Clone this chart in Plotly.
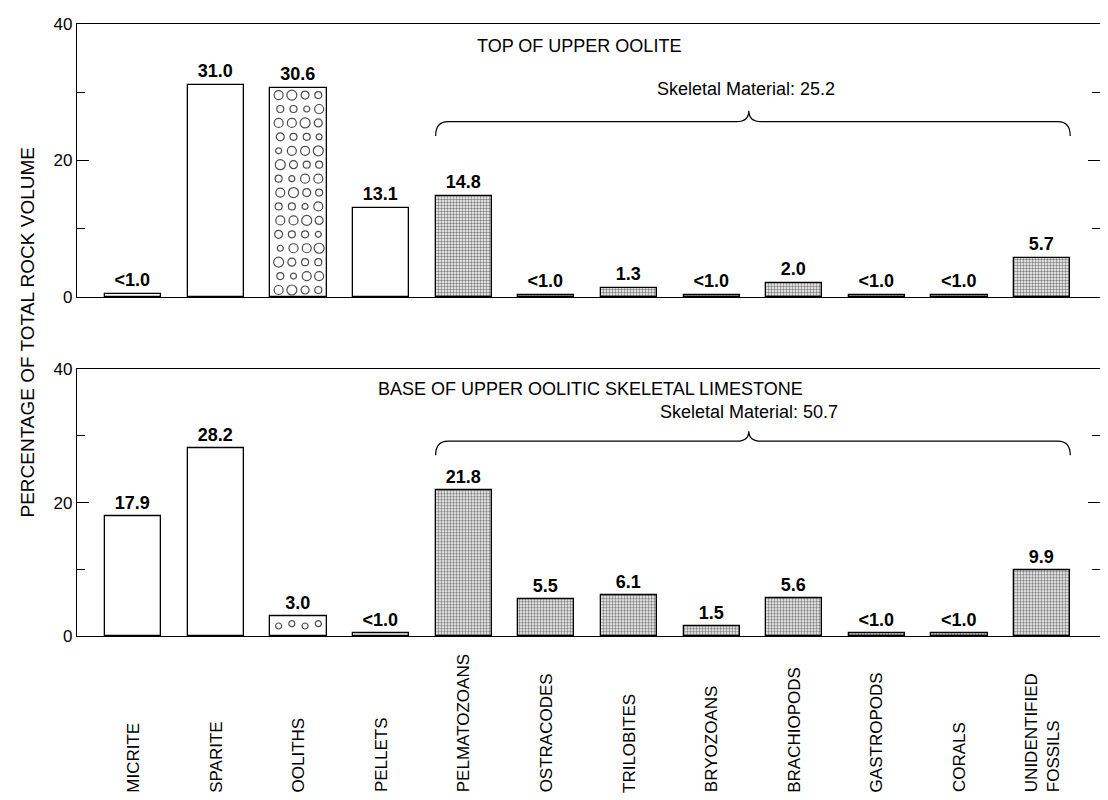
import plotly.graph_objects as go
from plotly.subplots import make_subplots

categories = ['MICRITE', 'SPARITE', 'OOLITHS', 'PELLETS', 'PELMATOZOANS', 'OSTRACODES',
              'TRILOBITES', 'BRYOZOANS', 'BRACHIOPODS', 'GASTROPODS', 'CORALS',
              'UNIDENTIFIED<br>FOSSILS']
kinds = ['plain', 'plain', 'oolith', 'plain'] + ['skeletal'] * 8

top_values = [0.5, 31.0, 30.6, 13.1, 14.8, 0.3, 1.3, 0.3, 2.0, 0.3, 0.3, 5.7]
top_labels = ['<1.0', '31.0', '30.6', '13.1', '14.8', '<1.0', '1.3', '<1.0', '2.0',
              '<1.0', '<1.0', '5.7']
bottom_values = [17.9, 28.2, 3.0, 0.4, 21.8, 5.5, 6.1, 1.5, 5.6, 0.4, 0.4, 9.9]
bottom_labels = ['17.9', '28.2', '3.0', '<1.0', '21.8', '5.5', '6.1', '1.5', '5.6',
                 '<1.0', '<1.0', '9.9']

top_title = 'TOP OF UPPER OOLITE'
bottom_title = 'BASE OF UPPER OOLITIC SKELETAL LIMESTONE'
top_skeletal = 'Skeletal Material: 25.2'
bottom_skeletal = 'Skeletal Material: 50.7'

FONT = 'Liberation Sans, Arial, sans-serif'
NARROW = 'Liberation Sans Narrow, Liberation Sans, Arial, sans-serif'
BAR_W = 0.68
xpos = list(range(len(categories)))

fig = make_subplots(rows=2, cols=1)


def add_panel(values, labels, row):
    shapes = ['.' if k == 'skeletal' else '' for k in kinds]
    fig.add_trace(go.Bar(
        x=xpos, y=values, width=BAR_W,
        text=[f'<b>{t}</b>' for t in labels], textposition='outside',
        textfont=dict(family=FONT, size=18, color='black'),
        constraintext='none', cliponaxis=False,
        marker=dict(color='white', line=dict(color='black', width=1.3),
                    pattern=dict(shape=shapes, fgcolor='black', bgcolor='white',
                                 size=3, solidity=0.5)),
        showlegend=False, hoverinfo='skip',
    ), row=row, col=1)

    # open-circle texture for the ooliths bar
    i = kinds.index('oolith')
    h = values[i]
    nrows = max(1, int(h / 2.0))
    cx, cy, cs = [], [], []
    sizes = [9, 7, 10, 6, 8, 9, 7]
    for r in range(nrows):
        yy = (r + 0.5) * h / nrows
        offs = [-0.24, -0.08, 0.08, 0.24] if r % 2 == 0 else [-0.22, -0.06, 0.1, 0.25]
        for j, o in enumerate(offs):
            cx.append(i + o)
            cy.append(yy + (0.35 if (nrows == 1 and j % 2) else 0))
            s = sizes[(r + j * 2) % len(sizes)]
            cs.append(6 if nrows == 1 else s)
    fig.add_trace(go.Scatter(
        x=cx, y=cy, mode='markers',
        marker=dict(symbol='circle-open', size=cs, color='black', line=dict(width=1.2)),
        showlegend=False, hoverinfo='skip',
    ), row=row, col=1)


add_panel(top_values, top_labels, 1)
add_panel(bottom_values, bottom_labels, 2)


def brace(xref, yref, x0, x1, xm, yline, ypeak, yend, r=0.15):
    path = (f'M {x0},{yend} Q {x0},{yline} {x0 + r},{yline} L {xm - r},{yline} '
            f'Q {xm},{yline} {xm},{ypeak} Q {xm},{yline} {xm + r},{yline} '
            f'L {x1 - r},{yline} Q {x1},{yline} {x1},{yend}')
    fig.add_shape(type='path', path=path, xref=xref, yref=yref,
                  line=dict(color='black', width=1.2))


x_left = 4 - BAR_W / 2
x_right = 11 + BAR_W / 2
brace('x', 'y', x_left, x_right, 7.45, 25.7, 27.3, 23.6)
brace('x2', 'y2', x_left, x_right, 7.45, 29.2, 30.7, 27.1)

fig.add_annotation(x=5.39, y=36.8, xref='x', yref='y', text=top_title, showarrow=False,
                   font=dict(family=FONT, size=18, color='black'))
fig.add_annotation(x=7.42, y=30.5, xref='x', yref='y', text=top_skeletal, showarrow=False,
                   font=dict(family=FONT, size=18, color='black'))
fig.add_annotation(x=5.53, y=37.1, xref='x2', yref='y2', text=bottom_title, showarrow=False,
                   font=dict(family=FONT, size=18, color='black'))
fig.add_annotation(x=7.45, y=33.6, xref='x2', yref='y2', text=bottom_skeletal, showarrow=False,
                   font=dict(family=FONT, size=18, color='black'))

# category labels, rotated and bottom-aligned
for i, c in enumerate(categories):
    fig.add_annotation(x=i, y=-0.259, xref='x2', yref='paper', text=c, textangle=-90,
                       xanchor='center', yanchor='bottom', align='left', showarrow=False,
                       font=dict(family=FONT, size=17, color='black'))

fig.add_annotation(x=-0.061, y=0.496, xref='paper', yref='paper',
                   text='PERCENTAGE OF TOTAL ROCK VOLUME', textangle=-90, showarrow=False,
                   font=dict(family=FONT, size=19, color='black'))

fig.update_xaxes(range=[-0.68, 11.7], showline=True, linecolor='black', linewidth=1.3,
                 mirror=True, showticklabels=False, ticks='', showgrid=False, zeroline=False)
fig.update_yaxes(range=[0, 40], tickvals=[0, 20, 40], ticks='inside', ticklen=12,
                 tickcolor='black', mirror='ticks', showline=True, linecolor='black',
                 linewidth=1.3, showgrid=False, zeroline=False,
                 minor=dict(tickvals=[10, 30], ticks='inside', ticklen=8, tickcolor='black'),
                 tickfont=dict(family=NARROW, size=17, color='black'))
# page body adds an 8px margin, so the figure is drawn 8px smaller and shifted
fig.update_layout(
    width=1100, height=792,
    margin=dict(l=69, r=8, t=7, b=164),
    paper_bgcolor='white', plot_bgcolor='white',
    bargap=0,
    xaxis=dict(domain=[0, 1]), xaxis2=dict(domain=[0, 1]),
    yaxis=dict(domain=[0.554, 1]), yaxis2=dict(domain=[0, 0.436]),
)

fig.write_html('out.html')
